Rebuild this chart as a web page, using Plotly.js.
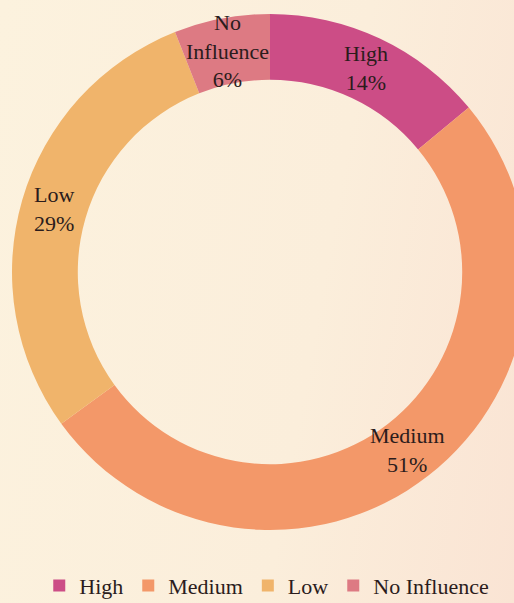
<!DOCTYPE html>
<html>
<head>
<meta charset="utf-8">
<script src="https://cdn.plot.ly/plotly-3.0.1.min.js"></script>
<style>
html,body{margin:0;padding:0;overflow:hidden;width:514px;height:603px;
background:linear-gradient(100deg,#fcf2de 0%,#fbeedb 60%,#fae4d4 100%);}
#chart{width:540px;height:603px;}
</style>
</head>
<body>
<div id="chart"></div>
<script>
const categories = ["High", "Medium", "Low", "No Influence"];
const shares = [14, 51, 29, 6];
const sliceLabels = ["High", "Medium", "Low", "No<br>Influence"];
const colors = ["#cc4d86", "#f39869", "#f0b46b", "#dd7a83"];

const W = 540, H = 603;
const margin = {l: 0, r: 0, t: 14, b: 73};
const hole = 0.745;
const serif = "Liberation Serif, DejaVu Serif, serif";

const trace = {
  type: "pie",
  labels: categories,
  values: shares,
  hole: hole,
  sort: false,
  direction: "clockwise",
  rotation: 0,
  marker: {colors: colors, line: {width: 0}},
  textinfo: "none",
  hoverinfo: "label+percent"
};

// label annotations placed at each slice's mid-angle, mid-ring radius
const plotW = W - margin.l - margin.r;
const plotH = H - margin.t - margin.b;
const R = Math.min(plotW, plotH) / 2;
const rMid = R * (1 + hole) / 2;
const total = shares.reduce((a, b) => a + b, 0);
let cum = 0;
const annotations = shares.map((v, i) => {
  const mid = (cum + v / 2) / total * 2 * Math.PI;
  cum += v;
  const pct = Math.round(v / total * 100);
  return {
    xref: "paper", yref: "paper",
    x: 0.5 + rMid * Math.sin(mid) / plotW,
    y: 0.5 + rMid * Math.cos(mid) / plotH,
    xanchor: "center", yanchor: "middle",
    text: sliceLabels[i] + "<br>" + pct + "%",
    showarrow: false,
    font: {family: serif, size: 22, color: "#2b1c1c"}
  };
});

const layout = {
  width: W,
  height: H,
  margin: Object.assign({autoexpand: false}, margin),
  paper_bgcolor: "rgba(0,0,0,0)",
  plot_bgcolor: "rgba(0,0,0,0)",
  showlegend: true,
  annotations: annotations,
  legend: {
    orientation: "h",
    x: 0.494, xanchor: "center",
    y: -0.108, yanchor: "middle",
    font: {family: serif, size: 22, color: "#2b1c1c"},
    itemwidth: 30,
    traceorder: "normal"
  }
};

Plotly.newPlot("chart", [trace], layout, {displayModeBar: false, staticPlot: true});
</script>
</body>
</html>
